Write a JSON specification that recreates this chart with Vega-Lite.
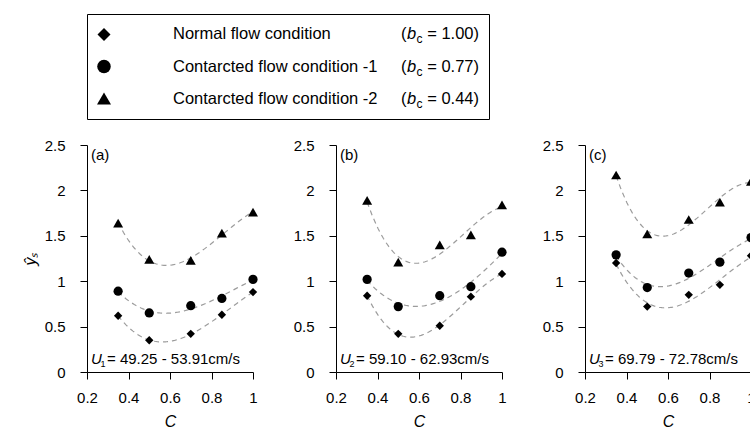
{
  "$schema": "https://vega.github.io/schema/vega-lite/v6.json",
  "background": "white",
  "padding": {"left": 22, "top": 13, "right": 0, "bottom": 0},
  "bounds": "flush",
  "spacing": 26,
  "config": {
    "font": "Liberation Sans",
    "view": {"stroke": null},
    "axis": {
      "domainColor": "black", "tickColor": "black", "labelColor": "black", "titleColor": "black",
      "labelFont": "Liberation Sans", "labelFontSize": 15, "titleFont": "Liberation Sans",
      "titleFontWeight": "normal", "titleFontStyle": "italic", "titleFontSize": 16,
      "grid": false, "domainWidth": 1, "tickWidth": 1, "labelOverlap": false, "labelFlush": false
    },
    "text": {"color": "black", "font": "Liberation Sans"}
  },
  "resolve": {"scale": {"size": "independent"}},
  "datasets": {
    "pts": [
      {"panel": "a", "series": "N", "x": 0.35, "y": 0.62},
      {"panel": "a", "series": "N", "x": 0.5, "y": 0.35},
      {"panel": "a", "series": "N", "x": 0.7, "y": 0.42},
      {"panel": "a", "series": "N", "x": 0.85, "y": 0.63},
      {"panel": "a", "series": "N", "x": 1.0, "y": 0.88},
      {"panel": "a", "series": "C1", "x": 0.35, "y": 0.89},
      {"panel": "a", "series": "C1", "x": 0.5, "y": 0.65},
      {"panel": "a", "series": "C1", "x": 0.7, "y": 0.73},
      {"panel": "a", "series": "C1", "x": 0.85, "y": 0.81},
      {"panel": "a", "series": "C1", "x": 1.0, "y": 1.02},
      {"panel": "a", "series": "C2", "x": 0.35, "y": 1.64},
      {"panel": "a", "series": "C2", "x": 0.5, "y": 1.24},
      {"panel": "a", "series": "C2", "x": 0.7, "y": 1.23},
      {"panel": "a", "series": "C2", "x": 0.85, "y": 1.53},
      {"panel": "a", "series": "C2", "x": 1.0, "y": 1.76},
      {"panel": "b", "series": "N", "x": 0.35, "y": 0.84},
      {"panel": "b", "series": "N", "x": 0.5, "y": 0.42},
      {"panel": "b", "series": "N", "x": 0.7, "y": 0.51},
      {"panel": "b", "series": "N", "x": 0.85, "y": 0.83},
      {"panel": "b", "series": "N", "x": 1.0, "y": 1.08},
      {"panel": "b", "series": "C1", "x": 0.35, "y": 1.02},
      {"panel": "b", "series": "C1", "x": 0.5, "y": 0.72},
      {"panel": "b", "series": "C1", "x": 0.7, "y": 0.84},
      {"panel": "b", "series": "C1", "x": 0.85, "y": 0.94},
      {"panel": "b", "series": "C1", "x": 1.0, "y": 1.32},
      {"panel": "b", "series": "C2", "x": 0.35, "y": 1.89},
      {"panel": "b", "series": "C2", "x": 0.5, "y": 1.21},
      {"panel": "b", "series": "C2", "x": 0.7, "y": 1.40},
      {"panel": "b", "series": "C2", "x": 0.85, "y": 1.51},
      {"panel": "b", "series": "C2", "x": 1.0, "y": 1.84},
      {"panel": "c", "series": "N", "x": 0.35, "y": 1.20},
      {"panel": "c", "series": "N", "x": 0.5, "y": 0.72},
      {"panel": "c", "series": "N", "x": 0.7, "y": 0.85},
      {"panel": "c", "series": "N", "x": 0.85, "y": 0.96},
      {"panel": "c", "series": "N", "x": 1.0, "y": 1.28},
      {"panel": "c", "series": "C1", "x": 0.35, "y": 1.29},
      {"panel": "c", "series": "C1", "x": 0.5, "y": 0.93},
      {"panel": "c", "series": "C1", "x": 0.7, "y": 1.09},
      {"panel": "c", "series": "C1", "x": 0.85, "y": 1.21},
      {"panel": "c", "series": "C1", "x": 1.0, "y": 1.48},
      {"panel": "c", "series": "C2", "x": 0.35, "y": 2.17},
      {"panel": "c", "series": "C2", "x": 0.5, "y": 1.52},
      {"panel": "c", "series": "C2", "x": 0.7, "y": 1.68},
      {"panel": "c", "series": "C2", "x": 0.85, "y": 1.87},
      {"panel": "c", "series": "C2", "x": 1.0, "y": 2.10}
    ],
    "notes": [
      {"panel": "a", "tag": "(a)", "sub": "1", "range": "= 49.25 - 53.91cm/s"},
      {"panel": "b", "tag": "(b)", "sub": "2", "range": "= 59.10 - 62.93cm/s"},
      {"panel": "c", "tag": "(c)", "sub": "3", "range": "= 69.79 - 72.78cm/s"}
    ],
    "legend": [
      {"row": 1, "series": "N", "label": "Normal flow condition", "val": "= 1.00)"},
      {"row": 2, "series": "C1", "label": "Contarcted flow condition -1", "val": "= 0.77)"},
      {"row": 3, "series": "C2", "label": "Contarcted flow condition -2", "val": "= 0.44)"}
    ]
  },
  "vconcat": [
    {
      "width": 402,
      "height": 105,
      "view": {"stroke": "black", "strokeWidth": 1},
      "data": {"name": "legend"},
      "encoding": {
        "y": {"field": "row", "type": "ordinal", "scale": {"type": "point", "padding": 0.64}, "axis": null}
      },
      "layer": [
        {
          "mark": {"type": "point", "filled": true, "color": "black", "opacity": 1},
          "encoding": {
            "x": {"datum": 17, "type": "quantitative", "scale": {"domain": [0, 402], "nice": false, "zero": false}, "axis": null},
            "shape": {"field": "series", "type": "nominal", "scale": {"domain": ["N", "C1", "C2"], "range": ["diamond", "circle", "triangle-up"]}, "legend": null},
            "size": {"field": "series", "type": "ordinal", "scale": {"domain": ["N", "C1", "C2"], "range": [169, 196, 150]}, "legend": null}
          }
        },
        {
          "mark": {"type": "text", "align": "left", "baseline": "middle", "fontSize": 16.5},
          "encoding": {"x": {"datum": 86, "type": "quantitative"}, "text": {"field": "label"}}
        },
        {
          "mark": {"type": "text", "align": "left", "baseline": "middle", "fontSize": 16.5},
          "encoding": {"x": {"datum": 314, "type": "quantitative"}, "text": {"value": "("}}
        },
        {
          "mark": {"type": "text", "align": "left", "baseline": "middle", "fontSize": 16.5, "fontStyle": "italic"},
          "encoding": {"x": {"datum": 320, "type": "quantitative"}, "text": {"value": "b"}}
        },
        {
          "mark": {"type": "text", "align": "left", "baseline": "middle", "fontSize": 12, "dy": 5},
          "encoding": {"x": {"datum": 329.5, "type": "quantitative"}, "text": {"value": "c"}}
        },
        {
          "mark": {"type": "text", "align": "right", "baseline": "middle", "fontSize": 16.5},
          "encoding": {"x": {"datum": 392, "type": "quantitative"}, "text": {"field": "val"}}
        }
      ]
    },
    {
      "hconcat": [
        {
          "width": 166, "height": 227,
          "layer": [
            {
              "data": {"name": "pts"},
              "transform": [{"filter": "datum.panel === 'a'"}, {"regression": "y", "on": "x", "groupby": ["series"], "method": "poly", "order": 3, "extent": [0.35, 1]}],
              "mark": {"type": "line", "stroke": "#9c9c9c", "strokeWidth": 1.2, "strokeDash": [5, 4]},
              "encoding": {
                "x": {"field": "x", "type": "quantitative", "scale": {"domain": [0.2, 1], "nice": false, "zero": false},
                  "axis": {"values": [0.2, 0.3, 0.4, 0.5, 0.6, 0.7, 0.8, 0.9, 1.0], "labelExpr": "round(datum.value*10)%2==0 ? format(datum.value,'~g') : ''", "tickSize": {"condition": {"test": "round(datum.value*10)%2==0", "value": 7}, "value": 4}, "labelPadding": 11, "title": "C", "titlePadding": 8}},
                "y": {"field": "y", "type": "quantitative", "scale": {"domain": [0, 2.5], "nice": false},
                  "axis": {"values": [0, 0.25, 0.5, 0.75, 1, 1.25, 1.5, 1.75, 2, 2.25, 2.5], "labelExpr": "round(datum.value*4)%2==0 ? format(datum.value,'~g') : ''", "tickSize": {"condition": {"test": "round(datum.value*4)%2==0", "value": 7}, "value": 4}, "labelPadding": 15, "title": "ŷₛ", "titlePadding": 6}},
                "detail": {"field": "series"}
              }
            },
            {
              "data": {"name": "pts"},
              "transform": [{"filter": "datum.panel === 'a'"}],
              "mark": {"type": "point", "filled": true, "color": "black", "opacity": 1},
              "encoding": {
                "x": {"field": "x", "type": "quantitative"},
                "y": {"field": "y", "type": "quantitative"},
                "shape": {"field": "series", "type": "nominal", "scale": {"domain": ["N", "C1", "C2"], "range": ["diamond", "circle", "triangle-up"]}, "legend": null},
                "size": {"field": "series", "type": "ordinal", "scale": {"domain": ["N", "C1", "C2"], "range": [70, 100, 100]}, "legend": null}
              }
            },
            {
              "data": {"name": "notes"},
              "transform": [{"filter": "datum.panel === 'a'"}],
              "mark": {"type": "text", "align": "left", "baseline": "top", "dx": 4, "dy": 3, "fontSize": 15},
              "encoding": {"x": {"datum": 0.2, "type": "quantitative"}, "y": {"datum": 2.5, "type": "quantitative"}, "text": {"field": "tag"}}
            },
            {
              "data": {"name": "notes"},
              "transform": [{"filter": "datum.panel === 'a'"}],
              "mark": {"type": "text", "align": "left", "baseline": "alphabetic", "dx": 4, "dy": -8, "fontSize": 15, "fontStyle": "italic"},
              "encoding": {"x": {"datum": 0.2, "type": "quantitative"}, "y": {"datum": 0, "type": "quantitative"}, "text": {"value": "U"}}
            },
            {
              "data": {"name": "notes"},
              "transform": [{"filter": "datum.panel === 'a'"}],
              "mark": {"type": "text", "align": "left", "baseline": "alphabetic", "dx": 13.5, "dy": -5, "fontSize": 9},
              "encoding": {"x": {"datum": 0.2, "type": "quantitative"}, "y": {"datum": 0, "type": "quantitative"}, "text": {"field": "sub"}}
            },
            {
              "data": {"name": "notes"},
              "transform": [{"filter": "datum.panel === 'a'"}],
              "mark": {"type": "text", "align": "left", "baseline": "alphabetic", "dx": 20, "dy": -8, "fontSize": 15},
              "encoding": {"x": {"datum": 0.2, "type": "quantitative"}, "y": {"datum": 0, "type": "quantitative"}, "text": {"field": "range"}}
            }
          ]
        },
        {
          "width": 166, "height": 227,
          "layer": [
            {
              "data": {"name": "pts"},
              "transform": [{"filter": "datum.panel === 'b'"}, {"regression": "y", "on": "x", "groupby": ["series"], "method": "poly", "order": 3, "extent": [0.35, 1]}],
              "mark": {"type": "line", "stroke": "#9c9c9c", "strokeWidth": 1.2, "strokeDash": [5, 4]},
              "encoding": {
                "x": {"field": "x", "type": "quantitative", "scale": {"domain": [0.2, 1], "nice": false, "zero": false},
                  "axis": {"values": [0.2, 0.3, 0.4, 0.5, 0.6, 0.7, 0.8, 0.9, 1.0], "labelExpr": "round(datum.value*10)%2==0 ? format(datum.value,'~g') : ''", "tickSize": {"condition": {"test": "round(datum.value*10)%2==0", "value": 7}, "value": 4}, "labelPadding": 11, "title": "C", "titlePadding": 8}},
                "y": {"field": "y", "type": "quantitative", "scale": {"domain": [0, 2.5], "nice": false},
                  "axis": {"values": [0, 0.25, 0.5, 0.75, 1, 1.25, 1.5, 1.75, 2, 2.25, 2.5], "labelExpr": "round(datum.value*4)%2==0 ? format(datum.value,'~g') : ''", "tickSize": {"condition": {"test": "round(datum.value*4)%2==0", "value": 7}, "value": 4}, "labelPadding": 15, "title": null}},
                "detail": {"field": "series"}
              }
            },
            {
              "data": {"name": "pts"},
              "transform": [{"filter": "datum.panel === 'b'"}],
              "mark": {"type": "point", "filled": true, "color": "black", "opacity": 1},
              "encoding": {
                "x": {"field": "x", "type": "quantitative"},
                "y": {"field": "y", "type": "quantitative"},
                "shape": {"field": "series", "type": "nominal", "scale": {"domain": ["N", "C1", "C2"], "range": ["diamond", "circle", "triangle-up"]}, "legend": null},
                "size": {"field": "series", "type": "ordinal", "scale": {"domain": ["N", "C1", "C2"], "range": [70, 100, 100]}, "legend": null}
              }
            },
            {
              "data": {"name": "notes"},
              "transform": [{"filter": "datum.panel === 'b'"}],
              "mark": {"type": "text", "align": "left", "baseline": "top", "dx": 4, "dy": 3, "fontSize": 15},
              "encoding": {"x": {"datum": 0.2, "type": "quantitative"}, "y": {"datum": 2.5, "type": "quantitative"}, "text": {"field": "tag"}}
            },
            {
              "data": {"name": "notes"},
              "transform": [{"filter": "datum.panel === 'b'"}],
              "mark": {"type": "text", "align": "left", "baseline": "alphabetic", "dx": 4, "dy": -8, "fontSize": 15, "fontStyle": "italic"},
              "encoding": {"x": {"datum": 0.2, "type": "quantitative"}, "y": {"datum": 0, "type": "quantitative"}, "text": {"value": "U"}}
            },
            {
              "data": {"name": "notes"},
              "transform": [{"filter": "datum.panel === 'b'"}],
              "mark": {"type": "text", "align": "left", "baseline": "alphabetic", "dx": 13.5, "dy": -5, "fontSize": 9},
              "encoding": {"x": {"datum": 0.2, "type": "quantitative"}, "y": {"datum": 0, "type": "quantitative"}, "text": {"field": "sub"}}
            },
            {
              "data": {"name": "notes"},
              "transform": [{"filter": "datum.panel === 'b'"}],
              "mark": {"type": "text", "align": "left", "baseline": "alphabetic", "dx": 20, "dy": -8, "fontSize": 15},
              "encoding": {"x": {"datum": 0.2, "type": "quantitative"}, "y": {"datum": 0, "type": "quantitative"}, "text": {"field": "range"}}
            }
          ]
        },
        {
          "width": 166, "height": 227,
          "layer": [
            {
              "data": {"name": "pts"},
              "transform": [{"filter": "datum.panel === 'c'"}, {"regression": "y", "on": "x", "groupby": ["series"], "method": "poly", "order": 3, "extent": [0.35, 1]}],
              "mark": {"type": "line", "stroke": "#9c9c9c", "strokeWidth": 1.2, "strokeDash": [5, 4]},
              "encoding": {
                "x": {"field": "x", "type": "quantitative", "scale": {"domain": [0.2, 1], "nice": false, "zero": false},
                  "axis": {"values": [0.2, 0.3, 0.4, 0.5, 0.6, 0.7, 0.8, 0.9, 1.0], "labelExpr": "round(datum.value*10)%2==0 ? format(datum.value,'~g') : ''", "tickSize": {"condition": {"test": "round(datum.value*10)%2==0", "value": 7}, "value": 4}, "labelPadding": 11, "title": "C", "titlePadding": 8}},
                "y": {"field": "y", "type": "quantitative", "scale": {"domain": [0, 2.5], "nice": false},
                  "axis": {"values": [0, 0.25, 0.5, 0.75, 1, 1.25, 1.5, 1.75, 2, 2.25, 2.5], "labelExpr": "round(datum.value*4)%2==0 ? format(datum.value,'~g') : ''", "tickSize": {"condition": {"test": "round(datum.value*4)%2==0", "value": 7}, "value": 4}, "labelPadding": 15, "title": null}},
                "detail": {"field": "series"}
              }
            },
            {
              "data": {"name": "pts"},
              "transform": [{"filter": "datum.panel === 'c'"}],
              "mark": {"type": "point", "filled": true, "color": "black", "opacity": 1},
              "encoding": {
                "x": {"field": "x", "type": "quantitative"},
                "y": {"field": "y", "type": "quantitative"},
                "shape": {"field": "series", "type": "nominal", "scale": {"domain": ["N", "C1", "C2"], "range": ["diamond", "circle", "triangle-up"]}, "legend": null},
                "size": {"field": "series", "type": "ordinal", "scale": {"domain": ["N", "C1", "C2"], "range": [70, 100, 100]}, "legend": null}
              }
            },
            {
              "data": {"name": "notes"},
              "transform": [{"filter": "datum.panel === 'c'"}],
              "mark": {"type": "text", "align": "left", "baseline": "top", "dx": 4, "dy": 3, "fontSize": 15},
              "encoding": {"x": {"datum": 0.2, "type": "quantitative"}, "y": {"datum": 2.5, "type": "quantitative"}, "text": {"field": "tag"}}
            },
            {
              "data": {"name": "notes"},
              "transform": [{"filter": "datum.panel === 'c'"}],
              "mark": {"type": "text", "align": "left", "baseline": "alphabetic", "dx": 4, "dy": -8, "fontSize": 15, "fontStyle": "italic"},
              "encoding": {"x": {"datum": 0.2, "type": "quantitative"}, "y": {"datum": 0, "type": "quantitative"}, "text": {"value": "U"}}
            },
            {
              "data": {"name": "notes"},
              "transform": [{"filter": "datum.panel === 'c'"}],
              "mark": {"type": "text", "align": "left", "baseline": "alphabetic", "dx": 13.5, "dy": -5, "fontSize": 9},
              "encoding": {"x": {"datum": 0.2, "type": "quantitative"}, "y": {"datum": 0, "type": "quantitative"}, "text": {"field": "sub"}}
            },
            {
              "data": {"name": "notes"},
              "transform": [{"filter": "datum.panel === 'c'"}],
              "mark": {"type": "text", "align": "left", "baseline": "alphabetic", "dx": 20, "dy": -8, "fontSize": 15},
              "encoding": {"x": {"datum": 0.2, "type": "quantitative"}, "y": {"datum": 0, "type": "quantitative"}, "text": {"field": "range"}}
            }
          ]
        }
      ],
      "spacing": 83,
      "bounds": "flush"
    }
  ]
}
